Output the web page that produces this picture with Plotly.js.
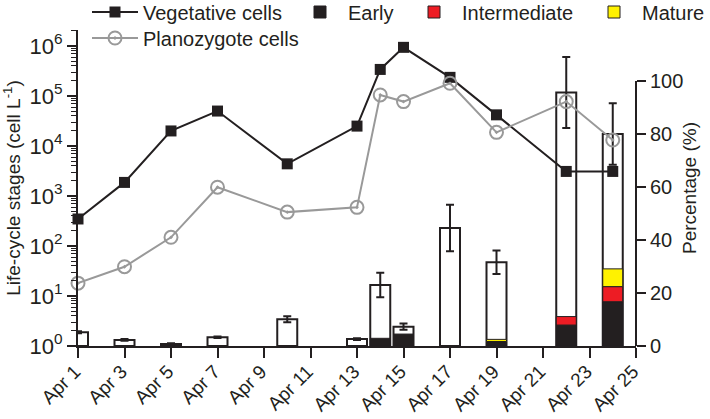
<!DOCTYPE html>
<html>
<head>
<meta charset="utf-8">
<script src="https://cdn.plot.ly/plotly-3.0.1.min.js"></script>
<style>html,body{margin:0;padding:0;background:#fff;}#chart{width:710px;height:419px;}</style>
</head>
<body>
<div id="chart"></div>
<script>
// ---- data ----
const sampleDates = ['2013-04-01','2013-04-03','2013-04-05','2013-04-07','2013-04-10','2013-04-13','2013-04-14','2013-04-15','2013-04-17','2013-04-19','2013-04-22','2013-04-24'];
const vegetativeCells = [347, 1870, 20000, 50000, 4400, 25000, 340000, 940000, 236000, 42000, 3100, 3100];
const planozygotePct = [23.7, 29.9, 41.0, 59.9, 50.5, 52.3, 94.7, 92.2, 99.1, 80.6, 92.2, 77.7];
const totalPct = [5.2, 2.3, 0.8, 3.3, 10.1, 2.6, 23.0, 7.3, 44.5, 31.6, 95.6, 80.0];
const totalErr = [0.4, 0.3, 0.2, 0.3, 1.1, 0.3, 4.6, 1.2, 8.8, 4.4, 13.4, 11.6];
const earlyPct = [null, null, null, null, null, null, 2.9, 4.5, null, 1.6, 7.9, 16.7];
const intermediatePct = [null, null, null, null, null, null, null, null, null, 0.1, 3.2, 5.7];
const maturePct = [null, null, null, null, null, null, null, null, null, 0.8, null, 6.7];
const leftTickVals = [1, 10, 100, 1000, 10000, 100000, 1000000];
const leftTickText = ['10<sup>0</sup>','10<sup>1</sup>','10<sup>2</sup>','10<sup>3</sup>','10<sup>4</sup>','10<sup>5</sup>','10<sup>6</sup>'];
const rightTickVals = [0, 20, 40, 60, 80, 100];

// ---- helpers ----
const z = a => a.map(v => v == null ? 0 : v);
const baseInter = z(earlyPct);
const baseMature = z(earlyPct).map((v, i) => v + z(intermediatePct)[i]);
const minorVals = [];
for (let d = 0; d < 7; d++) for (let k = 2; k <= 9; k++) minorVals.push(k * Math.pow(10, d));

const BLACK = '#231f20';
const FONT = 'Liberation Sans, Arial, Helvetica, sans-serif';
const barW = 0.86 * 86400000;

const traces = [
  {type: 'bar', x: sampleDates, y: totalPct, yaxis: 'y', width: barW, name: 'Total',
   showlegend: false, marker: {color: '#ffffff', line: {color: BLACK, width: 2}},
   error_y: {type: 'data', array: totalErr, visible: true, color: BLACK, thickness: 2, width: 4}},
  {type: 'bar', x: sampleDates, y: earlyPct, yaxis: 'y', width: barW, name: 'Early', legend: 'legend2',
   marker: {color: BLACK, line: {color: BLACK, width: 1}}},
  {type: 'bar', x: sampleDates, y: intermediatePct, base: baseInter, yaxis: 'y', width: barW, name: 'Intermediate', legend: 'legend3',
   marker: {color: '#ed1c24', line: {color: BLACK, width: 1}}},
  {type: 'bar', x: sampleDates, y: maturePct, base: baseMature, yaxis: 'y', width: barW, name: 'Mature', legend: 'legend4',
   marker: {color: '#fff200', line: {color: BLACK, width: 1}}},
  {type: 'scatter', mode: 'lines+markers', x: sampleDates, y: vegetativeCells, yaxis: 'y2', name: 'Vegetative cells', legend: 'legend',
   line: {color: BLACK, width: 2}, marker: {symbol: 'square', size: 11, color: BLACK}, cliponaxis: false},
  {type: 'scatter', mode: 'lines+markers', x: sampleDates, y: planozygotePct, yaxis: 'y3', name: 'Planozygote cells', legend: 'legend5',
   line: {color: '#999999', width: 2}, marker: {symbol: 'circle-open-dot', size: 13, color: '#999999', line: {width: 2}}, cliponaxis: false}
];

const legBase = {orientation: 'h', bgcolor: 'rgba(0,0,0,0)', borderwidth: 0, font: {size: 20, color: BLACK, family: FONT},
  xref: 'container', yref: 'container', xanchor: 'left', yanchor: 'middle', traceorder: 'normal', itemwidth: 46};
const cx = px => px / 710;
const cy = px => 1 - px / 419;

const layout = {
  width: 710, height: 419,
  margin: {l: 78, r: 74, t: 30, b: 73, autoexpand: false},
  paper_bgcolor: '#fff', plot_bgcolor: '#fff',
  font: {family: FONT, color: BLACK, size: 18},
  barmode: 'overlay',
  showlegend: true,
  xaxis: {type: 'date', range: ['2013-04-01', '2013-04-25'], tickmode: 'linear', tick0: '2013-04-01', dtick: 2 * 86400000,
    tickformat: '%b %-d', tickangle: -45, ticks: 'outside', ticklen: 10, tickwidth: 2, tickcolor: BLACK,
    ticklabelstandoff: -5, ticklabelshift: -3,
    showline: true, linewidth: 2, linecolor: BLACK, showgrid: false, zeroline: false, tickfont: {size: 19}, automargin: false},
  yaxis: {range: [0, 119.2], side: 'right', tickmode: 'array', tickvals: rightTickVals, ticks: 'outside', ticklen: 9, tickwidth: 2, tickcolor: BLACK,
    showline: false, showgrid: false, zeroline: false, tickfont: {size: 20}, automargin: false,
    title: {text: 'Percentage (%)', font: {size: 19}, standoff: 0}},
  yaxis2: {type: 'log', overlaying: 'y', side: 'left', range: [0, 6.32], tickmode: 'array', tickvals: leftTickVals, ticktext: leftTickText,
    ticks: 'outside', ticklen: 9, tickwidth: 2, tickcolor: BLACK, showline: true, linewidth: 2, linecolor: BLACK,
    showgrid: false, zeroline: false, tickfont: {size: 22}, automargin: false,
    minor: {tickmode: 'array', tickvals: minorVals, ticks: 'outside', ticklen: 5, tickwidth: 1, tickcolor: BLACK, showgrid: false},
    title: {text: 'Life-cycle stages (cell L<sup>-1</sup>)', font: {size: 19}, standoff: 4}},
  yaxis3: {overlaying: 'y', range: [0, 119.2], visible: false, showgrid: false, zeroline: false},
  legend: Object.assign({}, legBase, {x: cx(87), y: cy(12)}),
  legend2: Object.assign({}, legBase, {x: cx(292), y: cy(12)}),
  legend3: Object.assign({}, legBase, {x: cx(406), y: cy(12)}),
  legend4: Object.assign({}, legBase, {x: cx(586), y: cy(12)}),
  legend5: Object.assign({}, legBase, {x: cx(87), y: cy(38)}),
  shapes: [{type: 'line', xref: 'paper', x0: 1, x1: 1, yref: 'y', y0: 0, y1: 100, line: {color: BLACK, width: 2}}]
};

Plotly.newPlot('chart', traces, layout, {displayModeBar: false, staticPlot: true});
</script>
</body>
</html>
